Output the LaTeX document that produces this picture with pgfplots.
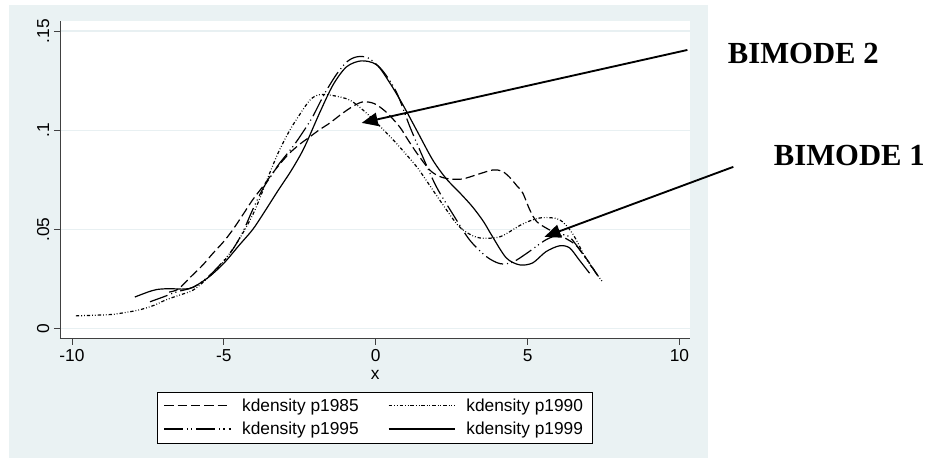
\documentclass[border=0pt]{standalone}
\usepackage{pgfplots}
\pgfplotsset{compat=1.18}
\usepackage{fontspec}
\setmainfont{Liberation Sans}
\newfontfamily\timesfont{Liberation Serif}
\usetikzlibrary{arrows.meta}
\definecolor{statabg}{RGB}{234,242,243}
\definecolor{gridc}{RGB}{232,240,242}

\begin{document}
\begin{tikzpicture}
    % Stata graph region and page size
    \path (0,0) rectangle (696.75pt,345.75pt);
    \fill[statabg] (6.75pt,2.25pt) rectangle (531.75pt,342pt);

    \begin{axis}[
            at={(45pt,91.5pt)}, anchor=south west,
            width=473.25pt, height=238.5pt, scale only axis,
            xmin=-10.395, xmax=10.36,
            ymin=-0.005, ymax=0.1551,
            axis x line*=bottom, axis y line*=left,
            axis line style={black!75, line width=0.6pt},
            axis background/.style={fill=white},
            xtick={-10,-5,0,5,10}, xticklabels={-10,-5,0,5,10},
            ytick={0,0.05,0.1,0.15}, yticklabels={0,.05,.1,.15},
            tick align=outside, major tick length=4.5pt,
            tick style={black!75, line width=0.6pt},
            ymajorgrids, grid style={gridc, line width=1pt},
            tick label style={font=\fontsize{13}{15}\selectfont},
            yticklabel style={rotate=90, anchor=south, xshift=0pt},
            xlabel={x},
            xlabel style={font=\fontsize{13}{15}\selectfont, at={(axis description cs:0.5,-0.113)}, anchor=center},
            clip=false,
            legend columns=2,
            legend cell align=left,
            legend style={at={(0.4992,-0.1667)}, anchor=north, draw=black, fill=white,
                font=\fontsize{13}{15}\selectfont,
                /tikz/every odd column/.append style={column sep=6pt},
                /tikz/every even column/.append style={column sep=20pt},
                row sep=2.5pt,
                inner xsep=5pt, inner ysep=3pt},
            legend image code/.code={\draw[#1] (0pt,0pt) -- (50pt,0pt);},
            every axis plot/.append style={black, line width=0.9pt},
        ]

        \addplot[smooth, dash pattern=on 7pt off 3pt] coordinates {
            (-6.8,0.0185) (-6.5,0.0200) (-6.1,0.026) (-5.7,0.032) (-5.36,0.038) (-5.0,0.044)
            (-4.7,0.050) (-4.35,0.058) (-4.05,0.065) (-3.7,0.072) (-3.39,0.0785) (-3.1,0.084)
            (-2.83,0.0886) (-2.5,0.093) (-2.17,0.0967) (-1.85,0.1003) (-1.51,0.1037) (-1.1,0.1085)
            (-0.76,0.112) (-0.43,0.1143) (-0.05,0.1135) (0.36,0.109) (0.79,0.1017) (1.05,0.0955)
            (1.35,0.0886) (1.78,0.080) (2.1,0.0768) (2.43,0.0755) (2.86,0.0755) (3.4,0.078)
            (3.85,0.080) (4.15,0.0795) (4.4,0.0765) (4.65,0.072) (4.84,0.0685) (5.07,0.060)
            (5.3,0.054) (5.7,0.050) (6.2,0.046) (6.6,0.042) (7.0,0.034) (7.3,0.027)};
        \addlegendentry{kdensity p1985}

        \addplot[smooth, dash pattern=on 2.5pt off 1.5pt on 0.6pt off 1.5pt on 0.6pt off 1.5pt] coordinates {
            (-9.87,0.0065) (-9.3,0.0068) (-8.7,0.0072) (-8.2,0.0083) (-7.76,0.0096) (-7.3,0.0118)
            (-6.9,0.0146) (-6.45,0.017) (-6.0,0.0196) (-5.5,0.026) (-5.0,0.034) (-4.5,0.045)
            (-4.0,0.059) (-3.5,0.078) (-3.2,0.089) (-2.83,0.100) (-2.5,0.108) (-2.15,0.1155)
            (-1.84,0.118) (-1.4,0.1175) (-0.86,0.1153) (-0.4,0.110) (0.03,0.1037) (0.4,0.098)
            (0.79,0.0916) (1.35,0.0816) (1.7,0.074) (2.1,0.065) (2.66,0.053) (3.0,0.0485)
            (3.42,0.0458) (4.08,0.0463) (4.74,0.052) (5.1,0.0545) (5.5,0.056) (6.05,0.055)
            (6.48,0.048) (6.94,0.035) (7.45,0.024)};
        \addlegendentry{kdensity p1990}

        \addplot[smooth, dash pattern=on 14pt off 3pt on 0.8pt off 2.5pt on 0.8pt off 3pt] coordinates {
            (-7.43,0.0136) (-7.0,0.0160) (-6.55,0.0186) (-6.0,0.021) (-5.46,0.027) (-4.8,0.038)
            (-4.4,0.048) (-4.05,0.060) (-3.7,0.071) (-3.4,0.078) (-3.16,0.0835) (-2.73,0.0917)
            (-2.4,0.099) (-2.07,0.107) (-1.7,0.118) (-1.3,0.128) (-0.95,0.1345) (-0.63,0.137)
            (-0.25,0.1365) (0.23,0.130) (0.69,0.119) (1.12,0.102) (1.55,0.0866) (2.0,0.0715)
            (2.53,0.058) (3.09,0.0448) (3.65,0.0363) (4.1,0.0328) (4.5,0.0335) (4.97,0.038)
            (5.6,0.0448) (6.05,0.0473) (6.38,0.0463) (6.8,0.038) (7.3,0.027)};
        \addlegendentry{kdensity p1995}

        \addplot[smooth, solid] coordinates {
            (-7.93,0.016) (-7.5,0.0185) (-7.2,0.0198) (-6.8,0.0202) (-6.3,0.020) (-6.0,0.021)
            (-5.5,0.026) (-5.0,0.033) (-4.5,0.042) (-4.05,0.050) (-3.7,0.058) (-3.2,0.070)
            (-2.83,0.0785) (-2.5,0.087) (-2.27,0.094) (-1.84,0.109) (-1.4,0.123) (-0.96,0.132)
            (-0.47,0.135) (0.03,0.133) (0.46,0.124) (0.89,0.113) (1.35,0.100) (1.88,0.085)
            (2.33,0.0755) (2.8,0.068) (3.19,0.0614) (3.55,0.054) (3.85,0.0463) (4.3,0.0357)
            (4.74,0.0322) (5.17,0.0332) (5.6,0.0388) (6.05,0.0418) (6.38,0.0408) (6.7,0.0347)
            (7.04,0.028)};
        \addlegendentry{kdensity p1999}
    \end{axis}

    % annotations
    \draw[line width=1.4pt, -{Triangle[length=12pt,width=10pt]}] (516pt,308.25pt) -- (271.5pt,253.5pt);
    \draw[line width=1.4pt, -{Triangle[length=12pt,width=10pt]}] (550.5pt,220.5pt) -- (408.75pt,168pt);
    \node[font=\timesfont\bfseries\fontsize{23}{28}\selectfont] at (603pt,305.25pt) {BIMODE 2};
    \node[font=\timesfont\bfseries\fontsize{23}{28}\selectfont] at (637.5pt,228.75pt) {BIMODE 1};
\end{tikzpicture}
\end{document}
